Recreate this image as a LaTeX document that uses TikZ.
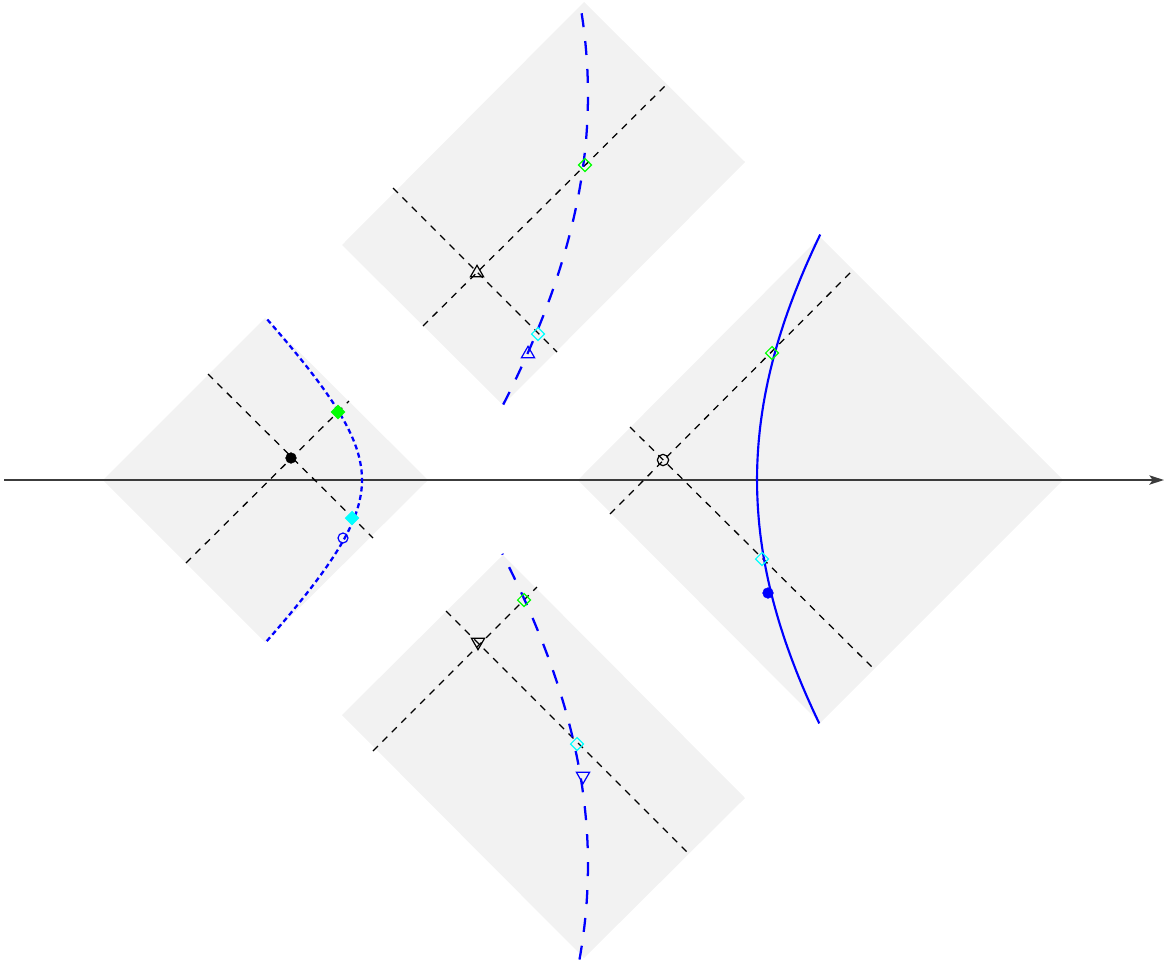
\documentclass[tikz,border=0pt]{standalone}
\usetikzlibrary{shapes.geometric,arrows.meta}
\definecolor{bgray}{RGB}{242,242,242}
\definecolor{mygreen}{RGB}{0,255,0}
\definecolor{mycyan}{RGB}{0,255,255}
\definecolor{myblue}{RGB}{0,0,255}
\definecolor{axisgray}{RGB}{60,60,60}
\begin{document}
\begin{tikzpicture}[x=0.75pt,y=-0.75pt,
  region/.style={fill=bgray,draw=none},
  guide/.style={draw=black,line width=0.95pt,dash pattern=on 5.2pt off 4.8pt},
  longdash/.style={draw=myblue,line width=1.7pt,dash pattern=on 10.5pt off 10.5pt},
  shortdash/.style={draw=myblue,line width=1.7pt,dash pattern=on 3.8pt off 2.6pt},
  solidcurve/.style={draw=myblue,line width=1.6pt},
  mkdiam/.style={diamond,draw=#1,inner sep=0pt,minimum width=10pt,minimum height=10pt,line width=0.9pt},
  mkdiamf/.style={diamond,draw=#1,fill=#1,inner sep=0pt,minimum width=10pt,minimum height=10pt,line width=0.9pt},
  mktri/.style={regular polygon,regular polygon sides=3,draw=#1,inner sep=0pt,minimum size=11.5pt,line width=0.9pt},
  mktrid/.style={regular polygon,regular polygon sides=3,shape border rotate=180,draw=#1,inner sep=0pt,minimum size=11.5pt,line width=0.9pt},
  mkcirc/.style={circle,draw=#1,inner sep=0pt,minimum size=8.5pt,line width=0.9pt},
  mkdot/.style={circle,draw=#1,fill=#1,inner sep=0pt,minimum size=8pt}
]
\useasboundingbox (0,0) rectangle (1169,968);

% grey regions
\fill[region] (578,480) -- (820,237) -- (1063,480) -- (820,723) -- cycle;
\fill[region] (103,480) -- (265,318) -- (428,480) -- (265,642) -- cycle;
\fill[region] (342,245) -- (584,2) -- (745,162) -- (503,405) -- cycle;
\fill[region] (342,715) -- (503,555) -- (745,798) -- (584,958) -- cycle;

% axis
\coordinate (axL) at (4,480);
\coordinate (axR) at (1164,480);
\draw[axisgray,line width=1.1pt,-{Stealth[length=11pt,width=7pt,inset=2.5pt]}] (axL) -- (axR);

% guide lines
\coordinate (rA1) at (610,514); \coordinate (rA2) at (853,270);
\coordinate (rB1) at (630,427); \coordinate (rB2) at (873,668);
\coordinate (lA1) at (186,563); \coordinate (lA2) at (349,401);
\coordinate (lB1) at (208,374); \coordinate (lB2) at (373,538);
\coordinate (tA1) at (423,326); \coordinate (tA2) at (667,84);
\coordinate (tB1) at (393,188); \coordinate (tB2) at (557,352);
\coordinate (bA1) at (373,751); \coordinate (bA2) at (537,587);
\coordinate (bB1) at (446,611); \coordinate (bB2) at (688,853);
\draw[guide] (rA1) -- (rA2);
\draw[guide] (rB1) -- (rB2);
\draw[guide] (lA1) -- (lA2);
\draw[guide] (lB1) -- (lB2);
\draw[guide] (tA1) -- (tA2);
\draw[guide] (tB1) -- (tB2);
\draw[guide] (bA1) -- (bA2);
\draw[guide] (bB1) -- (bB2);

% curves
\draw[solidcurve] plot[domain=-0.527:0.523,samples=80,smooth,variable=\t] ({312+445*cosh(\t)},{480+445*sinh(\t)});
\draw[shortdash] plot[domain=-1.355:1.36,samples=80,smooth,variable=\t] ({450.7-88.7*cosh(\t)},{480+88.7*sinh(\t)});
\draw[longdash] plot[domain=0.562:-0.18,samples=80,smooth,variable=\t] ({1110.8-522.8*cosh(\t)},{95+522.8*sinh(\t)});
\draw[longdash] plot[domain=0.18:-0.565,samples=80,smooth,variable=\t] ({1110.8-522.8*cosh(\t)},{865+522.8*sinh(\t)});

% markers
\node[mkcirc=black] (rc) at (663,460) {};
\node[mkdiam=mygreen] (rg) at (772,353) {};
\node[mkdiam=mycyan] (rcy) at (762,559) {};
\node[mkdot=myblue] (rb) at (768,593) {};

\node[mkdot=black] (lc) at (291,458) {};
\node[mkdiamf=mygreen] (lg) at (338,412) {};
\node[mkdiamf=mycyan] (lcy) at (352,518) {};
\node[mkcirc=myblue,minimum size=7.5pt] (lb) at (343,538) {};

\node[mktri=black] (tc) at (477,273) {};
\node[mkdiam=mygreen] (tg) at (585,165) {};
\node[mkdiam=mycyan] (tcy) at (538,334) {};
\node[mktri=myblue] (tb) at (528,354) {};

\node[mktrid=black] (bc) at (478,642) {};
\node[mkdiam=mygreen] (bg) at (524,600) {};
\node[mkdiam=mycyan] (bcy) at (577,744) {};
\node[mktrid=myblue] (bb) at (583,776) {};
\end{tikzpicture}
\end{document}
